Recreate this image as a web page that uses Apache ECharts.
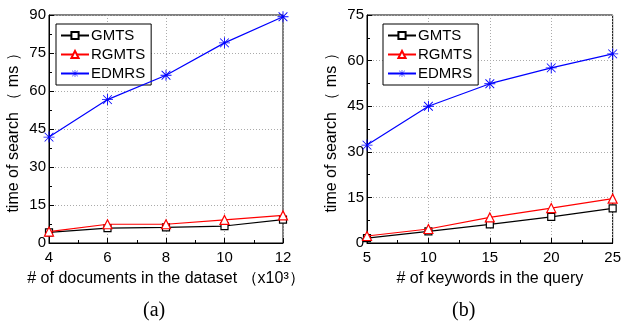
<!DOCTYPE html>
<html><head><meta charset="utf-8">
<script src="https://cdn.jsdelivr.net/npm/echarts@6/dist/echarts.min.js"></script>
<style>html,body{margin:0;padding:0;background:#fff}#c{width:624px;height:328px}</style>
</head><body><div id="c"></div>
<script>
const seriesNames = ['GMTS', 'RGMTS', 'EDMRS'];
// Chart (a): documents (x10^3)
const docsX = [4, 6, 8, 10, 12];
const docsGMTS = [4.2, 5.9, 6.2, 6.7, 9.2];
const docsRGMTS = [4.5, 7.4, 7.4, 9.1, 10.9];
const docsEDMRS = [41.8, 56.6, 66.2, 79.0, 89.3];
// Chart (b): keywords
const kwX = [5, 10, 15, 20, 25];
const kwGMTS = [1.6, 3.8, 6.1, 8.6, 11.4];
const kwRGMTS = [2.3, 4.6, 8.4, 11.5, 14.6];
const kwEDMRS = [32.2, 45.0, 52.4, 57.6, 62.2];
const yTitle = 'time of search （ ms ）';
const xTitleA = '# of documents in the dataset （x10³）';
const xTitleB = '# of keywords in the query';

const FONT = 'Liberation Sans, Arial, sans-serif';
const star = 'path://M0,9.2L20,9.2L20,10.8L0,10.8ZM9.2,0L10.8,0L10.8,20L9.2,20ZM1.5,2.6L2.6,1.5L18.5,17.4L17.4,18.5ZM17.4,1.5L18.5,2.6L2.6,18.5L1.5,17.4Z';
const styles = [
  {color: '#000', symbol: 'rect', size: 7},
  {color: '#ff0000', symbol: 'triangle', size: 9},
  {color: '#0000ff', symbol: star, size: 11}
];
function mkSeries(gi, xs, arrs) {
  return arrs.map((a, i) => ({
    name: seriesNames[i], type: 'line', xAxisIndex: gi, yAxisIndex: gi,
    data: xs.map((x, j) => [x, a[j]]),
    symbol: styles[i].symbol, symbolSize: styles[i].size,
    showAllSymbol: true,
    lineStyle: {color: styles[i].color, width: 1.2},
    itemStyle: i === 2 ? {color: styles[i].color, borderWidth: 0}
                       : {color: '#fff', borderColor: styles[i].color, borderWidth: 1.2},
    emphasis: {disabled: true}, animation: false, z: 3 + i
  }));
}
function xAxis(gi, min, max, interval, name) {
  return {
    type: 'value', gridIndex: gi, min, max, interval, name,
    nameLocation: 'middle', nameGap: 28,
    nameTextStyle: {fontFamily: FONT, fontSize: 16, color: '#000'},
    axisLine: {lineStyle: {color: '#000', width: 1}},
    axisTick: {inside: true, length: 5, lineStyle: {color: '#000'}},
    minorTick: {show: true, splitNumber: 2, length: 3, lineStyle: {color: '#000'}},
    axisLabel: {fontFamily: FONT, fontSize: 15, color: '#000', margin: 7},
    splitLine: {show: true, lineStyle: {color: '#aaa', type: [1, 2], width: 1}}
  };
}
function yAxis(gi, max, interval) {
  return {
    type: 'value', gridIndex: gi, min: 0, max, interval, name: yTitle,
    nameLocation: 'middle', nameGap: 27,
    nameTextStyle: {fontFamily: FONT, fontSize: 16, color: '#000'},
    axisLine: {show: true, lineStyle: {color: '#000', width: 1}},
    axisTick: {show: true, inside: true, length: 5, lineStyle: {color: '#000'}},
    minorTick: {show: true, splitNumber: 2, length: 3, lineStyle: {color: '#000'}},
    axisLabel: {fontFamily: FONT, fontSize: 15, color: '#000', margin: 3},
    splitLine: {show: true, lineStyle: {color: '#aaa', type: [1, 2], width: 1}}
  };
}
function legend(gi, left) {
  return {
    data: seriesNames.map(n => ({name: n})),
    orient: 'vertical', left, top: 24,
    borderColor: '#000', borderWidth: 1, borderRadius: 0,
    padding: [4, 6, 4, 4], itemGap: 4, itemWidth: 28, itemHeight: 9,
    textStyle: {fontFamily: FONT, fontSize: 15, color: '#000', padding: [0, 0, 0, -3]},
    backgroundColor: '#fff'
  };
}
const chart = echarts.init(document.getElementById('c'), null, {renderer: 'canvas'});
const opt = {
  animation: false,
  grid: [
    {left: 49, right: 341, top: 15, bottom: 85, show: true, borderColor: '#000', borderWidth: 1, backgroundColor: 'transparent'},
    {left: 367, right: 10, top: 15, bottom: 85, show: true, borderColor: '#000', borderWidth: 1, backgroundColor: 'transparent'}
  ],
  xAxis: [xAxis(0, 4, 12, 2, xTitleA), xAxis(1, 5, 25, 5, xTitleB)],
  yAxis: [yAxis(0, 90, 15), yAxis(1, 75, 15)],
  legend: [legend(0, 56), legend(1, 383)],
  series: [].concat(mkSeries(0, docsX, [docsGMTS, docsRGMTS, docsEDMRS]),
                    mkSeries(1, kwX, [kwGMTS, kwRGMTS, kwEDMRS])),
  graphic: [
    {type: 'text', left: 143, top: 301, style: {text: '(a)', font: '20px "Liberation Serif", serif', fill: '#000'}},
    {type: 'text', left: 452, top: 301, style: {text: '(b)', font: '20px "Liberation Serif", serif', fill: '#000'}}
  ]
};
chart.setOption(opt);
</script></body></html>
